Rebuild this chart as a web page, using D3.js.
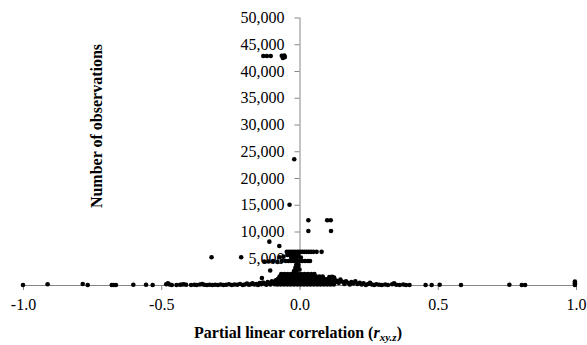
<!DOCTYPE html>
<html>
<head>
<meta charset="utf-8">
<script src="https://cdn.jsdelivr.net/npm/d3@7"></script>
<style>
  html, body { margin: 0; padding: 0; background: #fff; }
  svg { display: block; }
  text { font-family: "Liberation Serif", "Times New Roman", serif; }
</style>
</head>
<body>
<svg id="chart" width="587" height="345"></svg>
<script>
// ---- data ----
const xTicks = [-1.0, -0.5, 0.0, 0.5, 1.0];
const yTicks = [5000, 10000, 15000, 20000, 25000, 30000, 35000, 40000, 45000, 50000];

// partial correlation values and number of observations, point by point
const corr = [
  // sparse points along the axis, left
  -1.0, -0.911, -0.784, -0.766, -0.679, -0.672, -0.664, -0.601, -0.555, -0.531,
  // left band
  -0.482, -0.476, -0.470, -0.462, -0.445, -0.432, -0.425, -0.418, -0.410, -0.392,
  -0.380, -0.372, -0.360, -0.352, -0.345, -0.335, -0.325, -0.315, -0.305, -0.295,
  -0.285, -0.275, -0.265, -0.255, -0.245, -0.235, -0.225, -0.215, -0.205, -0.198,
  -0.190, -0.183, -0.176, -0.170, -0.163, -0.156, -0.150, -0.144, -0.138, -0.132,
  -0.126, -0.120, -0.115, -0.110, -0.105, -0.100, -0.095, -0.090, -0.086,
  // central blob, row ~100
  -0.080, -0.068, -0.056, -0.044, -0.032, -0.020, -0.008, 0.004, 0.016, 0.028,
  0.040, 0.052, 0.064, 0.076, 0.088, 0.100, 0.112, 0.124,
  // row ~550
  -0.082, -0.070, -0.058, -0.046, -0.034, -0.022, -0.010, 0.002, 0.014, 0.026,
  0.038, 0.050, 0.062, 0.074, 0.086, 0.098, 0.110, 0.122, 0.134,
  // row ~1100
  -0.078, -0.066, -0.054, -0.042, -0.030, -0.018, -0.006, 0.006, 0.018, 0.030,
  0.042, 0.054, 0.066, 0.078, 0.090, 0.102, 0.114, 0.126,
  // row ~1600
  -0.072, -0.060, -0.048, -0.036, -0.024, -0.012, 0.000, 0.012, 0.024, 0.036,
  0.048, 0.060, 0.072, 0.084, 0.108, 0.118, 0.125,
  // row ~2050
  -0.066, -0.054, -0.042, -0.030, -0.018, -0.006, 0.006, 0.018, 0.030, 0.042, 0.054,
  // column above blob
  -0.020, -0.010, 0.000, -0.015, -0.005, -0.012, -0.004,
  // right tail
  0.135, 0.142, 0.148, 0.155, 0.162, 0.168, 0.175, 0.182, 0.188, 0.195,
  0.202, 0.210, 0.218, 0.225, 0.232, 0.240, 0.248, 0.255, 0.262, 0.270,
  0.278, 0.288, 0.298, 0.310, 0.320, 0.335, 0.342, 0.350, 0.362, 0.375,
  0.385, 0.398, 0.456, 0.478, 0.507, 0.584, 0.759, 0.804, 0.816, 0.996, 0.996, 0.996,
  // top cluster ~43,000
  -0.131, -0.118, -0.104, -0.064, -0.059, -0.055, -0.060, -0.053,
  // isolated high points
  -0.019, -0.036, 0.032, 0.100, 0.113, 0.032, 0.114, -0.109, -0.073, -0.318, -0.211,
  // band ~6200
  -0.046, -0.038, -0.030, -0.022, -0.014, -0.006, 0.002, 0.010, 0.018, 0.026,
  0.034, 0.042, 0.050, 0.062, 0.080,
  // band ~5600
  -0.044, -0.034, -0.024, -0.014, -0.004,
  // band ~5150
  -0.030, -0.020, -0.010, 0.005,
  // band ~4500
  -0.050, -0.040, -0.030, -0.020, -0.010, 0.000, 0.010, 0.020, 0.030, 0.038,
  // left of axis near 5,000
  -0.128, -0.112, -0.096, -0.080, -0.072, -0.058, -0.064,
  // scattered mid points
  -0.106, -0.136
];
const obs = [
  0, 150, 200, 0, 0, 0, 0, 50, 50, 0,
  150, 300, 100, 0, 0, 50, 100, 150, 50, 0,
  50, 0, 100, 200, 50, 0, 50, 0, 50, 0,
  100, 0, 50, 150, 0, 100, 50, 200, 0, 100,
  250, 50, 150, 300, 100, 200, 0, 350, 150, 450,
  250, 50, 550, 300, 100, 700, 400, 150, 900,
  100, 100, 100, 100, 100, 100, 100, 100, 100, 100,
  100, 100, 100, 100, 100, 100, 100, 100,
  550, 550, 550, 550, 550, 550, 550, 550, 550, 550,
  550, 550, 550, 550, 550, 550, 550, 550, 550,
  1100, 1100, 1100, 1100, 1100, 1100, 1100, 1100, 1100, 1100,
  1100, 1100, 1100, 1100, 1100, 1100, 1100, 1100,
  1600, 1600, 1600, 1600, 1600, 1600, 1600, 1600, 1600, 1600,
  1600, 1600, 1600, 1600, 1500, 1550, 1400,
  2050, 2050, 2050, 2050, 2050, 2050, 2050, 2050, 2050, 2050, 2050,
  2600, 2700, 2900, 3200, 3400, 3750, 3800,
  800, 400, 1000, 600, 200, 700, 400, 100, 550, 300,
  700, 200, 400, 100, 300, 0, 200, 400, 100, 0,
  150, 50, 0, 100, 0, 150, 300, 50, 0, 100,
  0, 0, 0, 0, 50, 0, 50, 0, 0, 0, 350, 650,
  42800, 42800, 42800, 42850, 42650, 42900, 42450, 42600,
  23500, 15000, 12100, 12100, 12100, 10100, 10100, 8100, 7300, 5200, 5200,
  6200, 6200, 6200, 6200, 6200, 6200, 6200, 6200, 6200, 6200,
  6200, 6200, 6200, 6200, 6200,
  5600, 5600, 5600, 5600, 5600,
  5150, 5150, 5150, 5150,
  4500, 4500, 4500, 4500, 4500, 4500, 4500, 4500, 4500, 4500,
  4400, 4400, 4500, 4300, 5200, 5300, 4500,
  2700, 1300
];

// ---- chart ----
const svg = d3.select("#chart");
const x = d3.scaleLinear().domain([-1, 1]).range([23, 576]);
const y = d3.scaleLinear().domain([0, 50000]).range([285, 17.5]);
const axisColor = "#868686";

// x axis
const gx = svg.append("g")
  .attr("transform", `translate(0,${y(0)})`)
  .call(d3.axisBottom(x).tickValues(xTicks).tickSize(5).tickSizeOuter(0).tickPadding(9)
    .tickFormat(d => d.toFixed(1)));
// y axis
const gy = svg.append("g")
  .attr("transform", `translate(${x(0)},0)`)
  .call(d3.axisLeft(y).tickValues(yTicks).tickSize(5).tickSizeOuter(0).tickPadding(10)
    .tickFormat(d3.format(",")));

[gx, gy].forEach(g => {
  g.select(".domain").attr("stroke", axisColor).attr("stroke-width", 1);
  g.selectAll(".tick line").attr("stroke", axisColor).attr("stroke-width", 1);
  g.selectAll(".tick text")
    .attr("fill", "#000")
    .style("font-family", '"Liberation Serif", "Times New Roman", serif')
    .style("font-size", "16px");
});
gy.select(".domain").attr("d", `M0.5,${y(0)}V${y(50000)}`);

// points
const pts = corr.map((c, i) => ({ c, n: obs[i] }));
svg.append("g")
  .selectAll("circle")
  .data(pts)
  .enter().append("circle")
  .attr("cx", d => x(d.c))
  .attr("cy", d => y(d.n))
  .attr("r", 2.3)
  .attr("fill", "#000");

// axis titles
const xt = svg.append("text")
  .attr("x", 298)
  .attr("y", 338)
  .attr("text-anchor", "middle")
  .style("font-size", "16px")
  .style("font-weight", "bold");
xt.append("tspan").text("Partial linear correlation (");
xt.append("tspan").style("font-style", "italic").text("r");
xt.append("tspan").style("font-style", "italic").style("font-size", "11px").attr("dy", 3).text("xy.z");
xt.append("tspan").attr("dy", -3).text(")");

svg.append("text")
  .attr("transform", "translate(102,126) rotate(-90)")
  .attr("text-anchor", "middle")
  .style("font-size", "16px")
  .style("font-weight", "bold")
  .text("Number of observations");
</script>
</body>
</html>
